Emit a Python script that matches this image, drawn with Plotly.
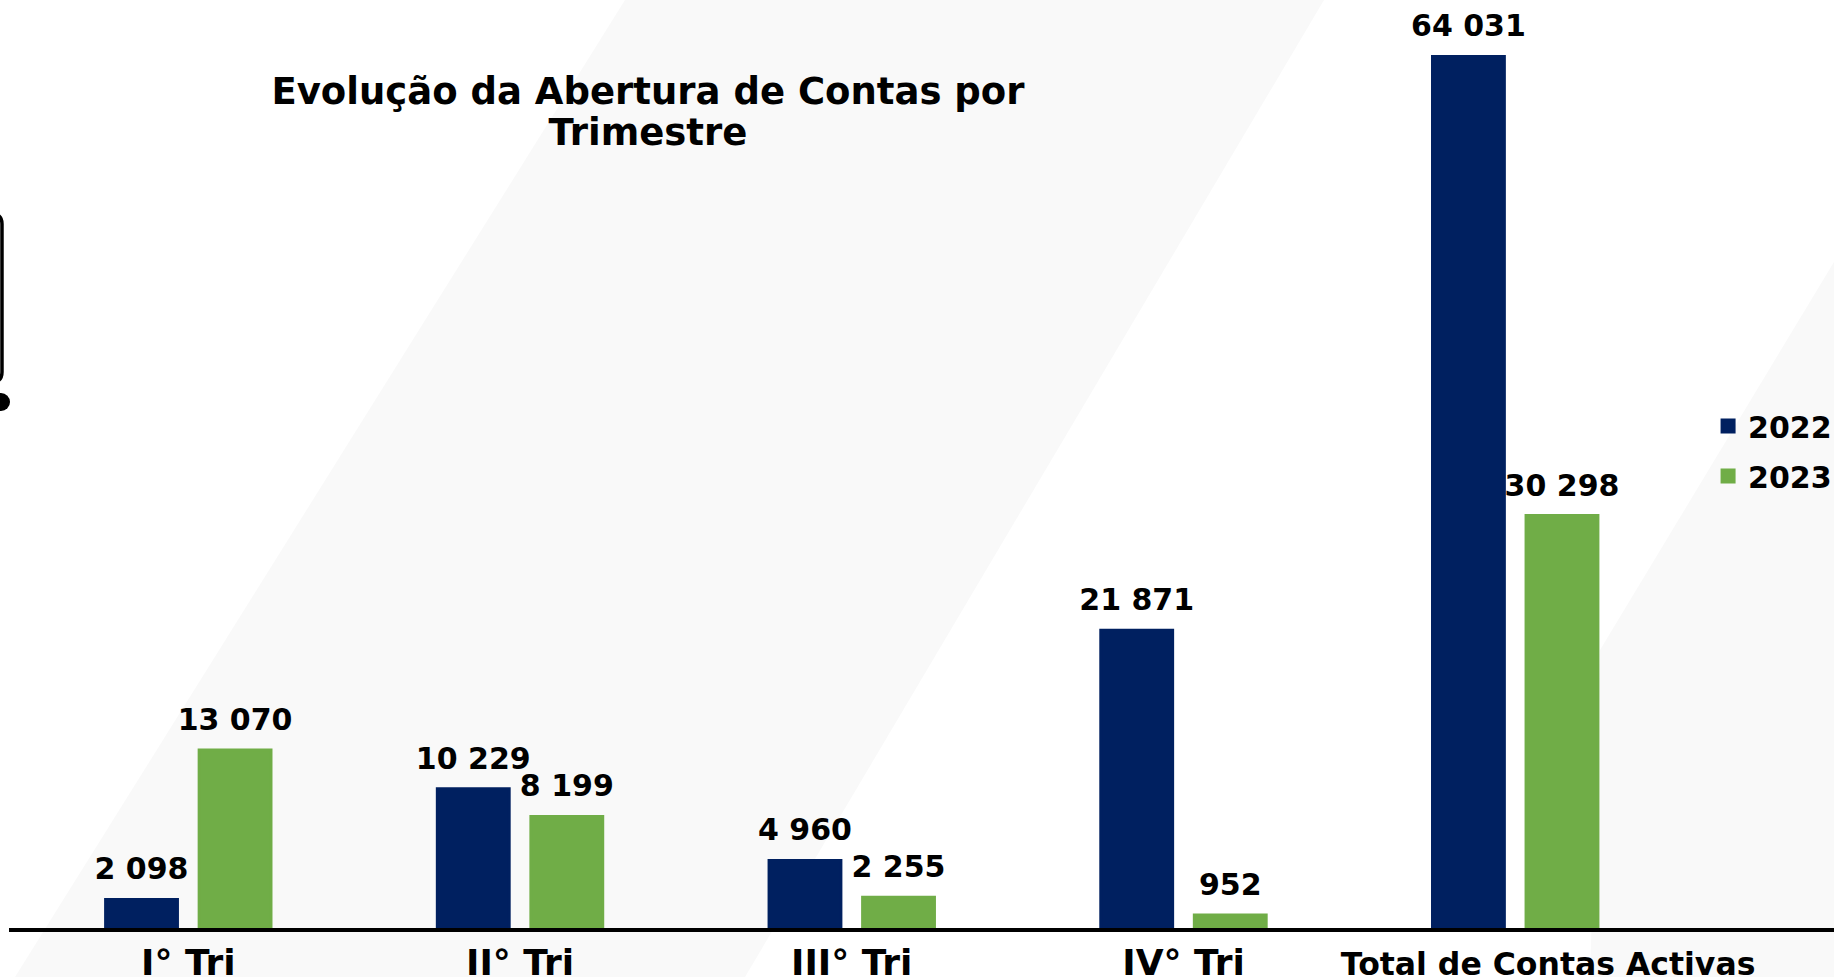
import plotly.graph_objects as go

# ---------------- data ----------------
categories = ["I° Tri", "II° Tri", "III° Tri", "IV° Tri", "Total de Contas Activas"]
series_names = ["2022", "2023"]
values_2022 = [2098, 10229, 4960, 21871, 64031]
values_2023 = [13070, 8199, 2255, 952, 30298]
series_values = [values_2022, values_2023]
series_colors = ["#002060", "#70AD47"]
title_line1 = "Evolução da Abertura de Contas por"
title_line2 = "Trimestre"

# ---------------- layout helpers ----------------
W, H = 1834, 977
ML, MR, MT, MB = 9, 0, 0, 49
PW = W - ML - MR
PH = H - MT - MB
FONT = "DejaVu Sans"


def pxx(x):
    return (x - ML) / PW


def pxy(y):
    return (H - MB - y) / PH


fig = go.Figure()

for name, vals, col in zip(series_names, series_values, series_colors):
    fig.add_trace(go.Bar(
        x=categories, y=vals, name=name, offsetgroup=name, legendgroup=name,
        marker=dict(color=col, line=dict(width=3, color=col)), hoverinfo="skip",
    ))

for name, vals in zip(series_names, series_values):
    fig.add_trace(go.Scatter(
        x=categories, y=vals, mode="markers+text", offsetgroup=name,
        marker=dict(size=18.4, opacity=0, color="#000"),
        texttemplate="%{y:,.0f}", textposition="top center",
        textfont=dict(family=FONT, size=30, color="#000", weight="bold"),
        showlegend=False, cliponaxis=False, hoverinfo="skip",
    ))

# last category label is slightly smaller and sits a little right of its bars
ticktext = [c if i < len(categories) - 1 else
            "<span style='font-size:31.5px'>" + "&nbsp;" * 6 + c + "</span>"
            for i, c in enumerate(categories)]

# background diagonal bands (decoration)
band1 = [(625, 0), (1324, 0), (745, 977), (15, 977)]
band2 = [(1834, 262), (1600, 650), (1590, 977), (1834, 977)]


def poly(points):
    return "M " + " L ".join(f"{pxx(x):.5f},{pxy(y):.5f}" for x, y in points) + " Z"


BAND = "#f9f9f9"
shapes = [
    dict(type="path", xref="paper", yref="paper", path=poly(band1),
         fillcolor=BAND, line=dict(width=0), layer="below"),
    dict(type="path", xref="paper", yref="paper", path=poly(band2),
         fillcolor=BAND, line=dict(width=0), layer="below"),
]
# left-edge cut-off icon outline
icon_path = (f"M {pxx(-30):.5f},{pxy(214):.5f} L {pxx(-8):.5f},{pxy(214):.5f} "
             f"Q {pxx(2):.5f},{pxy(214):.5f} {pxx(2):.5f},{pxy(224):.5f} "
             f"L {pxx(2):.5f},{pxy(372):.5f} "
             f"Q {pxx(2):.5f},{pxy(382):.5f} {pxx(-8):.5f},{pxy(382):.5f} "
             f"L {pxx(-30):.5f},{pxy(382):.5f}")
shapes.append(dict(type="path", xref="paper", yref="paper", path=icon_path,
                   line=dict(color="#000", width=3.5), layer="above"))
shapes.append(dict(type="circle", xref="paper", yref="paper",
                   x0=pxx(-8), x1=pxx(10), y0=pxy(411), y1=pxy(393),
                   fillcolor="#000", line=dict(width=0), layer="above"))

fig.update_layout(
    width=W, height=H,
    margin=dict(l=ML, r=MR, t=MT, b=MB, autoexpand=False),
    paper_bgcolor="#ffffff", plot_bgcolor="rgba(0,0,0,0)",
    barmode="group", bargap=0.436, bargroupgap=0.232,
    scattermode="group", scattergap=0.436,
    separators=", ",
    font=dict(family=FONT, color="#000"),
    title=dict(
        text="<span style='font-size:37px'>" + title_line1 + "</span><br>"
             "<span style='font-size:37px'>" + title_line2 + "</span>",
        font=dict(family=FONT, size=32, color="#000", weight="bold"),
        xref="container", yref="container", x=648 / W, xanchor="center",
        y=0.894, yanchor="top",
    ),
    legend=dict(
        x=0.931, xanchor="left", y=pxy(400), yanchor="top",
        font=dict(family=FONT, size=30, color="#000", weight="bold"),
        bgcolor="rgba(0,0,0,0)", tracegroupgap=8, itemclick=False,
    ),
    xaxis=dict(
        type="category", categoryorder="array", categoryarray=categories,
        tickmode="array", tickvals=categories, ticktext=ticktext,
        range=[-0.5405, 4.961], showline=True, linecolor="#000", linewidth=4,
        ticks="", showgrid=False, zeroline=False,
        tickfont=dict(family=FONT, size=36, color="#000", weight="bold"),
    ),
    yaxis=dict(range=[0, 68180], visible=False, showgrid=False, zeroline=False),
    shapes=shapes,
    showlegend=True,
)

fig.write_html("out.html", config={"displayModeBar": False},
               post_script="document.body.style.margin='0';")
